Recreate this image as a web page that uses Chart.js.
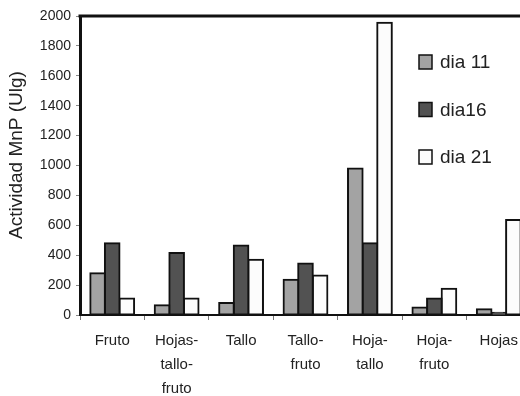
<!DOCTYPE html>
<html lang="es">
<head>
  <meta charset="UTF-8" />
  <title>Actividad MnP</title>
  <style>
    html, body {
      margin: 0;
      padding: 0;
      background: #fff;
      overflow: hidden;
    }
    #marco {
      width: 520px;
      height: 396px;
      overflow: hidden;
    }
    #grafico {
      width: 540px;
      height: 396px;
    }
  </style>
</head>
<body>
  <div id="marco">
    <div id="grafico"><canvas id="graficoBarras"></canvas></div>
  </div>

<script src="https://cdn.jsdelivr.net/npm/chart.js@4.4.0/dist/chart.umd.min.js"></script>
<script>
  // datos
  const organos = [
    ['Fruto'],
    ['Hojas-', 'tallo-', 'fruto'],
    ['Tallo'],
    ['Tallo-', 'fruto'],
    ['Hoja-', 'tallo'],
    ['Hoja-', 'fruto'],
    ['Hojas']
  ];
  const dia11 = [280, 65, 80, 235, 980, 50, 38];
  const dia16 = [480, 415, 465, 345, 480, 110, 15];
  const dia21 = [110, 110, 370, 265, 1955, 175, 635];
  const nombresSeries = ['dia 11', 'dia16', 'dia 21'];
  const coloresSeries = ['#a3a3a3', '#525252', '#fcfcfc'];

  const fuente = '"Liberation Sans", Arial, sans-serif';

  // leyenda dentro del area, titulo y borde superior
  const extras = {
    id: 'extras',
    afterDraw(chart) {
      const { ctx, chartArea } = chart;
      ctx.save();
      ctx.strokeStyle = '#111';
      ctx.lineWidth = 3;
      ctx.beginPath();
      ctx.moveTo(chartArea.left - 1.5, chartArea.top);
      ctx.lineTo(chartArea.right, chartArea.top);
      ctx.stroke();

      // titulo del eje y
      ctx.fillStyle = '#222';
      ctx.font = '19px ' + fuente;
      ctx.textAlign = 'center';
      ctx.textBaseline = 'middle';
      ctx.translate(17, 155);
      ctx.rotate(-Math.PI / 2);
      ctx.fillText('Actividad MnP (Ulg)', 0, 0);
      ctx.restore();

      ctx.save();
      ctx.font = '19px ' + fuente;
      ctx.textBaseline = 'middle';
      chart.data.datasets.forEach((ds, i) => {
        const y = 62 + i * 47.5;
        ctx.fillStyle = ds.backgroundColor;
        ctx.fillRect(419, y - 7, 13, 14);
        ctx.strokeStyle = '#111';
        ctx.lineWidth = 1.5;
        ctx.strokeRect(419, y - 7, 13, 14);
        ctx.fillStyle = '#222';
        ctx.fillText(ds.label, 440, y + 1);
      });
      ctx.restore();
    }
  };

  new Chart(document.getElementById('graficoBarras'), {
    type: 'bar',
    data: {
      labels: organos,
      datasets: [dia11, dia16, dia21].map((valores, i) => ({
        label: nombresSeries[i],
        data: valores,
        backgroundColor: coloresSeries[i],
        borderColor: '#111',
        borderWidth: 2,
        borderSkipped: false,
        inflateAmount: 1,
        barPercentage: 1,
        categoryPercentage: 0.68
      }))
    },
    options: {
      responsive: true,
      maintainAspectRatio: false,
      animation: false,
      layout: { padding: { top: 16, right: 9, left: 0, bottom: 0 } },
      plugins: {
        legend: { display: false },
        tooltip: { enabled: false }
      },
      scales: {
        x: {
          grid: {
            display: true,
            drawOnChartArea: false,
            offset: true,
            tickLength: 5,
            tickColor: '#777',
            tickWidth: 1
          },
          border: { display: true, color: '#111', width: 2 },
          ticks: {
            color: '#222',
            font: { family: fuente, size: 15, lineHeight: 1.6 },
            padding: 9,
            maxRotation: 0,
            autoSkip: false
          },
          afterFit(scale) { scale.height = 81; }
        },
        y: {
          min: 0,
          max: 2000,
          ticks: {
            stepSize: 200,
            color: '#222',
            font: { family: fuente, size: 14 },
            padding: 5,
            callback: (v) => String(v)
          },
          grid: {
            display: true,
            drawOnChartArea: false,
            tickLength: 4,
            tickColor: '#888'
          },
          border: { display: true, color: '#111', width: 3 },
          afterFit(scale) { scale.width = 80; }
        }
      }
    },
    plugins: [extras]
  });
</script>
</body>
</html>
